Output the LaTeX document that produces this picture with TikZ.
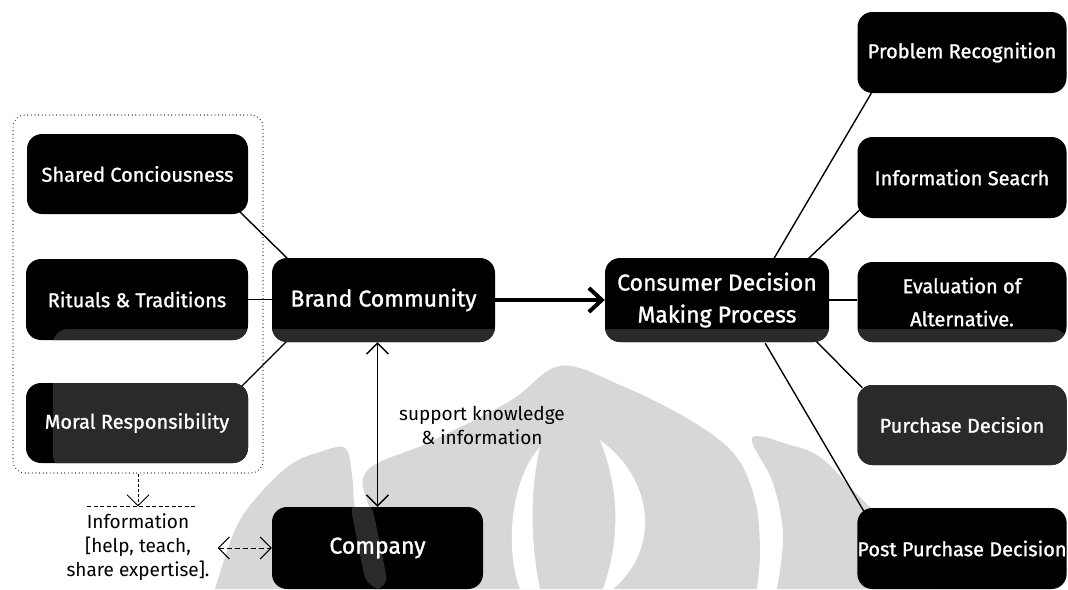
\documentclass[tikz,border=0pt]{standalone}
\usepackage{fontspec}
\setmainfont{Fira Sans}
\newfontfamily\cardfont[FakeBold=1.2]{Fira Sans}
\usetikzlibrary{arrows.meta,calc}
\pgfdeclarelayer{mark}
\pgfdeclarelayer{wires}
\pgfsetlayers{mark,wires,main}
\definecolor{markgray}{HTML}{D7D7D7}
\definecolor{cardshade}{HTML}{2A2A2A}
\tikzset{
  chev/.tip={Straight Barb[length=11pt,width=22pt]},
  bigchev/.tip={Straight Barb[length=13pt,width=24pt]},
}
\begin{document}
\begin{tikzpicture}[x=1pt,y=-1pt,
  card/.style={fill=black, rounded corners=15pt, text=white, align=center, inner sep=0pt,
    font=\cardfont\fontsize{20}{33}\selectfont,
    path picture={\fill[cardshade] (shadeNW) rectangle (shadeSE);
                  \fill[cardshade] (creviceA) -- (creviceB) -- (creviceC) -- (creviceD) -- cycle;}},
  bigcard/.style={card, font=\cardfont\fontsize{23}{32}\selectfont},
  wire/.style={line width=1.4pt},
  label/.style={font=\fontsize{19}{24}\selectfont, align=center},
]
\useasboundingbox (0,0) rectangle (1068,589);
% lighter band that the emblem casts over the cards
\coordinate (shadeNW) at (53,329);
\coordinate (shadeSE) at (1068,470);
% crevice of the emblem crossing the company card
\coordinate (creviceA) at (349,500);
\coordinate (creviceB) at (371,500);
\coordinate (creviceC) at (389,589);
\coordinate (creviceD) at (367,589);

% dotted frame around the three community markers
\node[draw, line width=1.1pt, dash pattern=on 0.1pt off 3.5pt, line cap=round,
      rounded corners=12pt, minimum width=250pt, minimum height=358pt] (grp) at (138,294) {};

% cards
\node[card, minimum width=221pt, minimum height=80pt] (sc) at (137.5,174) {Shared Conciousness};
\node[card, minimum width=222pt, minimum height=81pt] (rt) at (137,299.5) {Rituals \& Traditions};
\node[card, minimum width=222pt, minimum height=80pt] (mr) at (137,423) {Moral Responsibility};
\node[bigcard, minimum width=223pt, minimum height=84pt] (bc) at (383.5,300) {Brand Community};
\node[bigcard, minimum width=224pt, minimum height=84pt] (cd) at (717,300) {Consumer Decision\\Making Process};
\node[card, minimum width=209pt, minimum height=81pt] (pr) at (962,52.5) {Problem Recognition};
\node[card, minimum width=209pt, minimum height=81pt] (is) at (962,177.5) {Information Seacrh};
\node[card, minimum width=209pt, minimum height=80pt] (ev) at (962,302) {Evaluation of\\Alternative.};
\node[card, minimum width=209pt, minimum height=80pt] (pd) at (962,425) {Purchase Decision};
\node[card, minimum width=209pt, minimum height=81pt] (pp) at (962,548.5) {Post Purchase Decision};
\node[bigcard, minimum width=211pt, minimum height=82pt] (co) at (377.5,548) {Company};

% labels
\node[label] (sk) at (482,425) {support knowledge\\\& information};
\node[label, inner sep=4pt] (info) at (138,547) {Information\\{[}help, teach,\\share expertise].};

% connectors
\begin{pgfonlayer}{wires}
  \draw[wire] ($(sc.south east)+(-8,-2)$) -- ($(bc.north west)+(16,1)$);
  \draw[wire] (rt.east) -- (rt.east -| bc.west);
  \draw[wire] ($(mr.north east)+(-8,5)$) -- ($(bc.south west)+(16,-2)$);
  \draw[wire] ($(cd.north east)+(-56,2)$) -- ($(pr.south west)+(14,0)$);
  \draw[wire] ($(cd.north east)+(-21,1)$) -- ($(is.south west)+(2,-8)$);
  \draw[wire] (cd.east) -- (cd.east -| ev.west);
  \draw[wire] ($(cd.south east)+(-16,-4)$) -- ($(pd.north west)+(5,3)$);
  \draw[wire] ($(cd.south east)+(-64,1)$) -- ($(pp.north west)+(7,4)$);
\end{pgfonlayer}

\draw[line width=4pt, -bigchev] (bc.east) -- (cd.west);
\draw[line width=1.3pt, chev-chev] (bc.south -| co.north) -- (co.north);
\draw[line width=1pt, dash pattern=on 5pt off 3pt, chev-chev] ($(info.east |- co.west)+(4,0)$) -- (co.west);
\draw[line width=0.9pt, dash pattern=on 3pt off 2pt, -chev] (grp.south -| info.north) -- ($(info.north)+(0,-3)$);
\draw[line width=0.8pt, dash pattern=on 4pt off 2.5pt] ($(info.north)+(-51,-3)$) -- ($(info.north)+(57,-3)$);

% watermark emblem
\begin{pgfonlayer}{mark}
  \fill[markgray] plot[smooth, tension=0.6] coordinates
    {(215,589) (235,530) (257,497) (290,465) (320,452) (345,448) (352,475) (355,510) (367,589)} -- cycle;
  \fill[markgray] plot[smooth, tension=0.6] coordinates
    {(387,589) (373,520) (366,472) (430,442) (510,401) (560,366) (620,385) (690,420) (735,455) (755,500) (760,550) (757,589)} -- cycle;
  \fill[markgray] plot[smooth, tension=0.6] coordinates
    {(777,589) (783,535) (773,483) (752,438) (790,445) (820,457) (853,490) (900,540) (930,589)} -- cycle;
  \fill[white] (600,440) .. controls (655,480) and (660,550) .. (613,589)
    -- (603,589) .. controls (620,540) and (620,490) .. (600,440) -- cycle;
  \fill[white] (540,447) .. controls (510,480) and (505,550) .. (520,589)
    -- (540,589) .. controls (530,540) and (530,490) .. (540,447) -- cycle;
\end{pgfonlayer}
\end{tikzpicture}
\end{document}
